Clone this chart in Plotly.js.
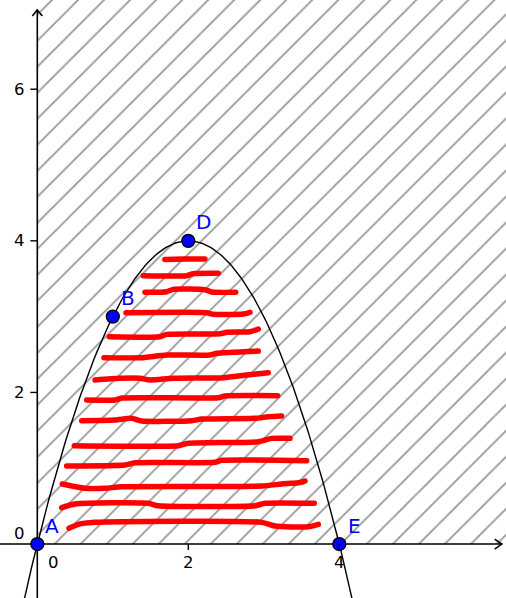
<!DOCTYPE html>
<html><head><meta charset="utf-8">
<script src="https://cdn.plot.ly/plotly-3.0.1.min.js"></script>
<style>html,body{margin:0;padding:0;background:#fff}#chart{width:506px;height:598px}
.scatterlayer .js-line{stroke-linecap:round;stroke-linejoin:round}</style>
</head><body><div id="chart"></div>
<script>
// ---- data ----
const pointNames = ['A', 'B', 'D', 'E'];
const pointX = [0, 1, 2, 4];
const pointY = [0, 3, 4, 0];
const parabolaCoef = [-1, 4, 0];           // y = a*x^2 + b*x + c
const xTickVals = [2, 4];
const xTickLabelVals = [0, 2, 4];
const xTickLabels = ['0', '2', '4'];
const yTickVals = [2, 4, 6];
const yTickLabelVals = [0, 2, 4, 6];
const yTickLabels = ['0', '2', '4', '6'];

// hand-drawn red strokes (top to bottom)
const strokeX = [
  [1.69, 1.95, 2.22],
  [1.404, 1.979, 2.066, 2.397],
  [1.426, 1.714, 1.801, 2.221, 2.310, 2.628],
  [1.175, 2.244, 2.331, 2.728, 2.817],
  [0.954, 1.625, 1.714, 2.420, 2.509, 2.817, 2.927],
  [0.883, 1.360, 1.714, 2.287, 2.376, 2.927],
  [0.764, 1.095, 1.360, 1.493, 1.801, 2.464, 2.774, 3.060],
  [0.654, 1.029, 1.118, 2.397, 2.486, 3.184],
  [0.588, 1.029, 1.250, 1.383, 2.045, 2.178, 2.883, 3.060, 3.237],
  [0.490, 1.868, 2.000, 2.927, 3.105, 3.347],
  [0.389, 1.162, 1.294, 2.354, 2.442, 3.568],
  [0.331, 0.632, 0.897, 1.118, 2.972, 3.237, 3.457, 3.546],
  [0.323, 0.499, 1.470, 1.603, 2.883, 3.016, 3.669],
  [0.420, 0.543, 0.764, 2.972, 3.148, 3.589, 3.722]
];
const strokeY = [
  [3.755, 3.76, 3.76],
  [3.540, 3.540, 3.566, 3.571],
  [3.321, 3.329, 3.360, 3.355, 3.325, 3.321],
  [3.051, 3.051, 3.030, 3.034, 3.057],
  [2.735, 2.735, 2.766, 2.774, 2.793, 2.801, 2.836],
  [2.458, 2.458, 2.493, 2.493, 2.516, 2.546],
  [2.164, 2.186, 2.186, 2.164, 2.186, 2.194, 2.230, 2.260],
  [1.900, 1.900, 1.926, 1.930, 1.953, 1.956],
  [1.627, 1.636, 1.658, 1.623, 1.627, 1.649, 1.658, 1.679, 1.689],
  [1.297, 1.297, 1.329, 1.350, 1.394, 1.394],
  [1.029, 1.042, 1.073, 1.078, 1.104, 1.099],
  [0.792, 0.735, 0.735, 0.756, 0.765, 0.792, 0.809, 0.831],
  [0.479, 0.528, 0.537, 0.505, 0.505, 0.537, 0.537],
  [0.207, 0.260, 0.286, 0.286, 0.237, 0.228, 0.260]
];

// ---- view ----
const xRange = [-0.494, 6.208];
const yRange = [-0.712, 7.177];
const xAxisEnd = 6.151, yAxisEnd = 7.045;
const FONT = 'DejaVu Sans, sans-serif';

const traces = [];
// hatched first quadrant
traces.push({
  x: [0, xRange[1] + 0.2, xRange[1] + 0.2, 0, 0],
  y: [0, 0, yRange[1] + 0.2, yRange[1] + 0.2, 0],
  mode: 'lines', line: {width: 0}, fill: 'toself',
  fillcolor: 'rgba(0,0,0,0)',
  fillpattern: {shape: '/', size: 18.4, solidity: 0.1, fgcolor: '#989898', bgcolor: 'rgba(0,0,0,0)'},
  hoverinfo: 'skip'
});
// red strokes
strokeX.forEach((xs, i) => {
  traces.push({x: xs, y: strokeY[i], mode: 'lines',
    line: {color: '#ff0000', width: 5.5, shape: 'spline', smoothing: 0.6}, hoverinfo: 'skip'});
});
// axes
traces.push({x: [xRange[0], xAxisEnd], y: [0, 0], mode: 'lines', line: {color: '#000', width: 1.6}, hoverinfo: 'skip'});
traces.push({x: [0, 0], y: [yRange[0], yAxisEnd], mode: 'lines', line: {color: '#000', width: 1.6}, hoverinfo: 'skip'});
// parabola
const px = [], py = [];
for (let x = -0.3; x <= 4.3001; x += 0.02) {
  px.push(x);
  py.push(parabolaCoef[0] * x * x + parabolaCoef[1] * x + parabolaCoef[2]);
}
traces.push({x: px, y: py, mode: 'lines', line: {color: '#000', width: 1.4}, hoverinfo: 'skip'});
// points
traces.push({x: pointX, y: pointY, mode: 'markers',
  marker: {size: 13, color: '#0000ff', line: {color: '#000', width: 1.3}}, hoverinfo: 'skip'});

const annotations = [];
pointNames.forEach((n, i) => annotations.push({
  x: pointX[i], y: pointY[i], text: n, showarrow: false, xshift: 15, yshift: 18.5,
  font: {family: FONT, size: 20, color: '#0000ff'}
}));
xTickLabelVals.forEach((v, i) => annotations.push({
  x: v, y: 0, text: xTickLabels[i], showarrow: false, xshift: v === 0 ? 16 : 0, yshift: -18.5,
  font: {family: FONT, size: 16.5, color: '#000'}
}));
yTickLabelVals.forEach((v, i) => annotations.push({
  x: 0, y: v, text: yTickLabels[i], showarrow: false, xshift: -17.5, yshift: v === 0 ? 11 : 0,
  font: {family: FONT, size: 16.5, color: '#000'}
}));

const shapes = [];
xTickVals.forEach(v => shapes.push({type: 'line', xref: 'x', yref: 'y', ysizemode: 'pixel', yanchor: 0,
  x0: v, x1: v, y0: 0, y1: -6, line: {color: '#000', width: 1.4}}));
yTickVals.forEach(v => shapes.push({type: 'line', xref: 'x', yref: 'y', xsizemode: 'pixel', xanchor: 0,
  x0: 0, x1: -7, y0: v, y1: v, line: {color: '#000', width: 1.4}}));
// arrow heads
shapes.push({type: 'path', xref: 'x', yref: 'y', xsizemode: 'pixel', ysizemode: 'pixel',
  xanchor: xAxisEnd, yanchor: 0, path: 'M-7,5 L0,0 L-7,-5', line: {color: '#000', width: 1.6}});
shapes.push({type: 'path', xref: 'x', yref: 'y', xsizemode: 'pixel', ysizemode: 'pixel',
  xanchor: 0, yanchor: yAxisEnd, path: 'M-5,-6 L0,0 L5,-6', line: {color: '#000', width: 1.6}});

const layout = {
  width: 506, height: 598, margin: {l: 0, r: 0, t: 0, b: 0},
  paper_bgcolor: '#fff', plot_bgcolor: '#fff', showlegend: false,
  xaxis: {range: xRange, visible: false, fixedrange: true},
  yaxis: {range: yRange, visible: false, fixedrange: true},
  annotations, shapes,
  font: {family: FONT}
};
Plotly.newPlot('chart', traces, layout, {displayModeBar: false, staticPlot: true});
</script></body></html>
